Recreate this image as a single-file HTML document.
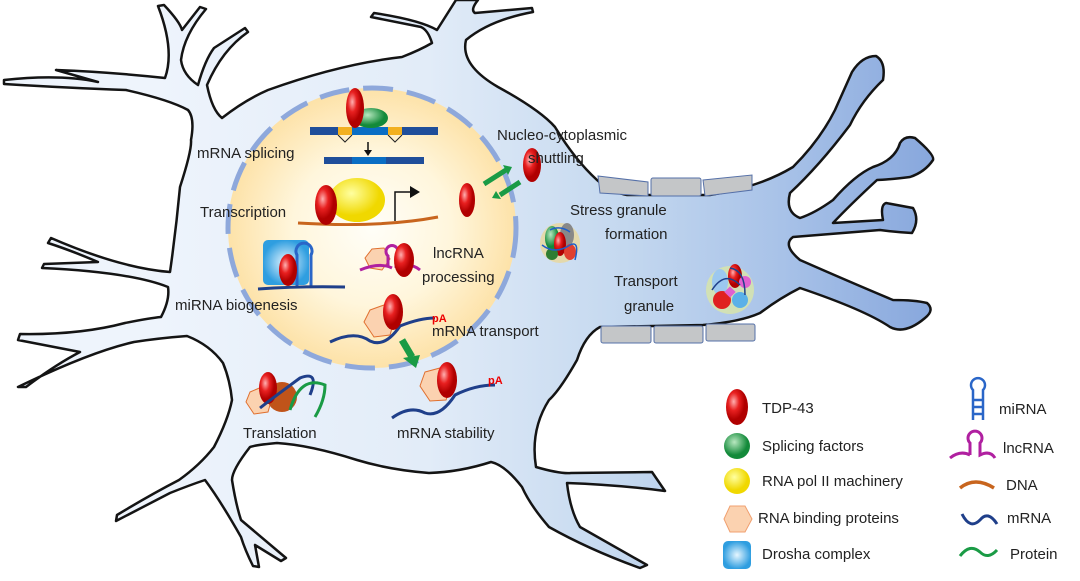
<!DOCTYPE html>
<html><head><meta charset="utf-8"><style>
html,body{margin:0;padding:0;background:#fff;width:1080px;height:581px;overflow:hidden}
text{font-family:"Liberation Sans",sans-serif;font-size:15px;fill:#222}
</style></head><body>
<svg width="1080" height="581" viewBox="0 0 1080 581" xmlns="http://www.w3.org/2000/svg">
<defs>
<linearGradient id="cell" gradientUnits="userSpaceOnUse" x1="150" x2="940" y1="0" y2="0">
<stop offset="0" stop-color="#eef4fc"/><stop offset="0.35" stop-color="#e2ecf8"/><stop offset="0.6" stop-color="#c4d8ef"/><stop offset="0.8" stop-color="#a8c2e8"/><stop offset="1" stop-color="#86a6dc"/></linearGradient>
<radialGradient id="nuc"><stop offset="0" stop-color="#fffef8"/><stop offset="0.55" stop-color="#fff6dc"/><stop offset="1" stop-color="#fde2a8"/></radialGradient>
<radialGradient id="tdp" cx="0.35" cy="0.35"><stop offset="0" stop-color="#ffb0b0"/><stop offset="0.5" stop-color="#e82020"/><stop offset="1" stop-color="#b00000"/></radialGradient>
<radialGradient id="grn" cx="0.4" cy="0.35"><stop offset="0" stop-color="#b8e8c0"/><stop offset="1" stop-color="#138a3a"/></radialGradient>
<radialGradient id="yel" cx="0.4" cy="0.35"><stop offset="0" stop-color="#ffffa0"/><stop offset="1" stop-color="#f0d800"/></radialGradient>
<radialGradient id="dro"><stop offset="0" stop-color="#e6f6ff"/><stop offset="1" stop-color="#2f9ee0"/></radialGradient>
</defs>
<path d="M4,80 Q60,74 98,82 L56,70 Q110,72 165,78 Q175,50 158,6 L164,5 Q180,22 182,30 L200,7 L206,9 Q184,35 181,60 Q183,75 198,85 Q205,60 214,48 L245,28 L248,32 Q222,50 207,85 Q212,110 222,118 Q245,100 268,90 Q340,64 402,57 Q420,50 432,43 Q428,30 421,27 L371,17 L374,13 Q420,20 437,30 L456,0 L478,0 Q470,10 475,13 L532,8 L533,12 Q490,20 466,40 Q460,65 498,87 Q540,110 555,127 Q575,160 597,180 Q610,192 627,195 L710,195 Q760,187 793,167 Q820,140 835,110 L852,72 Q862,56 876,56 Q886,62 883,80 Q862,100 850,125 Q820,165 790,193 Q785,212 800,218 Q815,213 833,200 Q855,175 873,167 Q895,160 900,143 Q905,135 915,138 Q935,155 933,160 Q925,172 910,177 Q885,180 877,180 Q850,205 833,223 L883,220 Q880,205 886,203 L913,208 Q920,220 912,233 Q895,232 880,230 L793,237 Q782,245 800,260 Q850,282 893,300 Q915,300 927,303 Q935,310 925,318 Q905,335 890,327 Q865,310 800,288 Q780,298 760,313 Q740,322 703,325 L600,327 Q585,335 577,360 Q560,390 549,400 Q530,430 536,467 Q560,474 571,473 L652,472 L665,491 Q620,485 567,483 Q570,510 580,527 L647,565 L640,568 Q590,550 549,527 Q530,505 522,487 Q505,465 491,462 Q460,472 429,473 Q390,470 357,460 Q310,445 277,443 Q255,445 250,447 Q232,470 232,480 Q236,505 241,520 L286,558 L281,561 L255,545 L259,567 L253,566 Q245,550 241,537 Q220,500 205,480 Q190,485 170,493 L116,521 L117,515 Q150,495 179,480 Q200,465 214,447 Q228,420 232,400 Q230,380 223,363 Q210,345 187,336 Q160,338 134,342 Q90,352 18,387 L26,387 Q55,365 80,352 L18,340 L20,334 Q80,335 125,323 Q150,318 161,317 Q170,300 168,287 Q130,272 42,268 L44,264 L98,262 Q70,250 48,243 L51,238 Q120,268 170,272 Q176,230 180,187 Q192,150 191,140 Q195,118 188,110 Q170,100 126,90 Q70,88 4,84 Z" fill="url(#cell)" stroke="#141414" stroke-width="2.5" stroke-linejoin="round"/>
<!-- myelin boxes -->
<g fill="#c4c6c8" stroke="#5570a8" stroke-width="1">
<path d="M598,176 L648,182 L648,196 L600,193 Z"/><rect x="651" y="178" width="50" height="18" rx="2"/><path d="M703,180 L752,175 L752,190 L705,196 Z"/>
<rect x="601" y="326" width="50" height="17" rx="2"/><rect x="654" y="326" width="49" height="17" rx="2"/><rect x="706" y="324" width="49" height="17" rx="2"/>
</g>
<!-- nucleus -->
<ellipse cx="372" cy="228" rx="144" ry="140" fill="url(#nuc)" stroke="#8ea8db" stroke-width="5" stroke-dasharray="30 14"/>
<!-- splicing -->
<rect x="310" y="127" width="128" height="8" fill="#1f4e9a"/><rect x="340" y="127" width="50" height="8" fill="#0a6ec4"/>
<rect x="338" y="127" width="14" height="8" fill="#f2b020"/><rect x="388" y="127" width="14" height="8" fill="#f2b020"/>
<ellipse cx="371" cy="118" rx="17" ry="10" fill="url(#grn)"/>
<ellipse cx="355" cy="108" rx="9" ry="20" fill="url(#tdp)"/>
<path d="M338,135 L345,142 L352,135 M388,135 L395,142 L402,135" fill="none" stroke="#222"/>
<path d="M368,142 V152" stroke="#111" stroke-width="1.5"/><path d="M364,150 L368,156 L372,150Z" fill="#111"/>
<rect x="324" y="157" width="100" height="7" fill="#1f4e9a"/><rect x="352" y="157" width="34" height="7" fill="#0a6ec4"/>
<text x="197" y="158">mRNA splicing</text>
<!-- transcription -->
<path d="M298,223 Q380,228 438,217" stroke="#c8651e" stroke-width="3" fill="none"/>
<ellipse cx="357" cy="200" rx="28" ry="22" fill="url(#yel)"/>
<ellipse cx="326" cy="205" rx="11" ry="20" fill="url(#tdp)"/>
<path d="M395,221 V192 H412" stroke="#111" stroke-width="1.5" fill="none"/><path d="M410,186 L420,192 L410,198Z" fill="#111"/>
<ellipse cx="467" cy="200" rx="8" ry="17" fill="url(#tdp)"/>
<text x="200" y="217">Transcription</text>
<!-- shuttling -->
<ellipse cx="532" cy="165" rx="9" ry="17" fill="url(#tdp)"/>
<path d="M484,184 L506,170" stroke="#1a9b45" stroke-width="5"/><path d="M503,165 L512,167 L508,175Z" fill="#1a9b45"/>
<path d="M520,182 L500,195" stroke="#1a9b45" stroke-width="5"/><path d="M496,191 L492,198 L501,199Z" fill="#1a9b45"/>
<text x="497" y="140">Nucleo-cytoplasmic</text><text x="528" y="163">shuttling</text>
<!-- miRNA -->
<rect x="263" y="240" width="46" height="45" rx="5" fill="url(#dro)"/>
<path d="M297,287 V255 a8,8 0 1 1 14,0 V287" fill="none" stroke="#2a66c8" stroke-width="3"/>
<ellipse cx="288" cy="270" rx="9" ry="16" fill="url(#tdp)"/>
<path d="M258,289 Q300,286 345,287" stroke="#1f3f8a" stroke-width="3" fill="none"/>
<text x="175" y="310">miRNA biogenesis</text>
<!-- lncRNA -->
<polygon points="372,249 384,248 390,259 382,270 370,268 365,258" fill="#fbd2b0" stroke="#e07030"/>
<path d="M360,270 Q380,262 392,268 M388,266 V256 a6,6 0 1 1 8,0 V266 Q410,262 420,270" fill="none" stroke="#b020a0" stroke-width="3"/>
<ellipse cx="404" cy="260" rx="10" ry="17" fill="url(#tdp)"/>
<text x="433" y="258">lncRNA</text><text x="422" y="282">processing</text>
<!-- mRNA transport -->
<polygon points="370,310 384,305 395,318 390,335 374,337 364,322" fill="#fbd2b0" stroke="#e07030"/>
<path d="M330,342 Q355,330 370,341 Q385,348 400,326 Q420,318 435,318" fill="none" stroke="#1f3f8a" stroke-width="3"/>
<ellipse cx="393" cy="312" rx="10" ry="18" fill="url(#tdp)"/>
<text x="432" y="322" style="font-size:11px;font-weight:bold;fill:#e00">pA</text>
<text x="432" y="336">mRNA transport</text>
<path d="M402,340 L412,357" stroke="#1a9b45" stroke-width="7"/><path d="M403,358 L420,355 L416,368Z" fill="#1a9b45"/>
<!-- mRNA stability -->
<polygon points="425,372 440,368 452,382 446,400 430,401 420,386" fill="#fbd2b0" stroke="#e07030"/>
<path d="M392,418 Q410,405 425,413 Q440,418 455,395 Q475,385 495,385" fill="none" stroke="#1f3f8a" stroke-width="3"/>
<ellipse cx="447" cy="380" rx="10" ry="18" fill="url(#tdp)"/>
<text x="488" y="384" style="font-size:11px;font-weight:bold;fill:#e00">pA</text>
<text x="397" y="438">mRNA stability</text>
<!-- translation -->
<polygon points="250,392 264,386 272,398 268,412 254,414 246,402" fill="#fbd2b0" stroke="#e07030"/>
<circle cx="282" cy="397" r="15" fill="#c0541a"/>
<ellipse cx="268" cy="388" rx="9" ry="16" fill="url(#tdp)"/>
<path d="M260,408 Q270,400 300,378 Q320,370 310,395" stroke="#1f3f8a" stroke-width="3" fill="none"/>
<path d="M290,410 Q300,375 325,385 Q325,400 315,417" stroke="#1a9b45" stroke-width="3" fill="none"/>
<text x="243" y="438">Translation</text>
<!-- stress granule -->
<circle cx="560" cy="243" r="20" fill="#e8d8a0" opacity="0.85"/>
<ellipse cx="552" cy="238" rx="7" ry="12" fill="url(#grn)"/><ellipse cx="567" cy="235" rx="7" ry="12" fill="#888"/><ellipse cx="560" cy="244" rx="6" ry="12" fill="url(#tdp)"/><ellipse cx="570" cy="252" rx="6" ry="8" fill="#e04030"/><ellipse cx="552" cy="254" rx="6" ry="6" fill="#2e7d32"/>
<path d="M542,245 Q555,255 570,245 Q580,240 575,260 M550,230 Q560,225 570,232" stroke="#1f5fc8" stroke-width="1.5" fill="none"/>
<text x="570" y="215">Stress granule</text><text x="605" y="239">formation</text>
<!-- transport granule -->
<circle cx="730" cy="290" r="24" fill="#d9e6a8" opacity="0.8"/>
<ellipse cx="720" cy="282" rx="8" ry="13" fill="#9cc8f0"/><ellipse cx="735" cy="276" rx="7" ry="12" fill="url(#tdp)"/><ellipse cx="722" cy="300" rx="9" ry="9" fill="#e02020"/><ellipse cx="740" cy="300" rx="8" ry="8" fill="#5bb0e8"/><circle cx="745" cy="282" r="6" fill="#e060d0"/><rect x="726" y="288" width="8" height="8" fill="#e060d0" transform="rotate(45 730 292)"/>
<path d="M712,290 Q725,270 740,285 M730,268 Q745,270 745,295" stroke="#1f3f8a" stroke-width="1.5" fill="none"/>
<text x="614" y="286">Transport</text><text x="624" y="311">granule</text>
<!-- legend -->
<ellipse cx="737" cy="407" rx="11" ry="18" fill="url(#tdp)"/><text x="762" y="413">TDP-43</text>
<circle cx="737" cy="446" r="13" fill="url(#grn)"/><text x="762" y="451">Splicing factors</text>
<circle cx="737" cy="481" r="13" fill="url(#yel)"/><text x="762" y="486">RNA pol II machinery</text>
<polygon points="730,506 745,506 752,519 745,532 730,532 724,519" fill="#fbd2b0" stroke="#f0a070"/><text x="758" y="523">RNA binding proteins</text>
<rect x="723" y="541" width="28" height="28" rx="5" fill="url(#dro)"/><text x="762" y="559">Drosha complex</text>
<path d="M973,420 V390 a7,7 0 1 1 10,0 V420 M973,400 H983 M973,407 H983 M973,414 H983" fill="none" stroke="#2a66c8" stroke-width="2.5"/><text x="999" y="414">miRNA</text>
<path d="M950,458 Q960,450 970,455 M970,455 V443 a7,7 0 1 1 10,0 V455 Q990,450 995,458" fill="none" stroke="#b020a0" stroke-width="3"/><text x="1003" y="453">lncRNA</text>
<path d="M960,488 Q975,476 994,488" stroke="#c8651e" stroke-width="3.5" fill="none"/><text x="1006" y="490">DNA</text>
<path d="M962,514 Q970,530 980,520 Q988,510 997,524" stroke="#1f3f8a" stroke-width="3" fill="none"/><text x="1007" y="523">mRNA</text>
<path d="M960,556 Q970,543 980,552 Q988,560 997,550" stroke="#1a9b45" stroke-width="3" fill="none"/><text x="1010" y="559">Protein</text>
</svg>
</body></html>
